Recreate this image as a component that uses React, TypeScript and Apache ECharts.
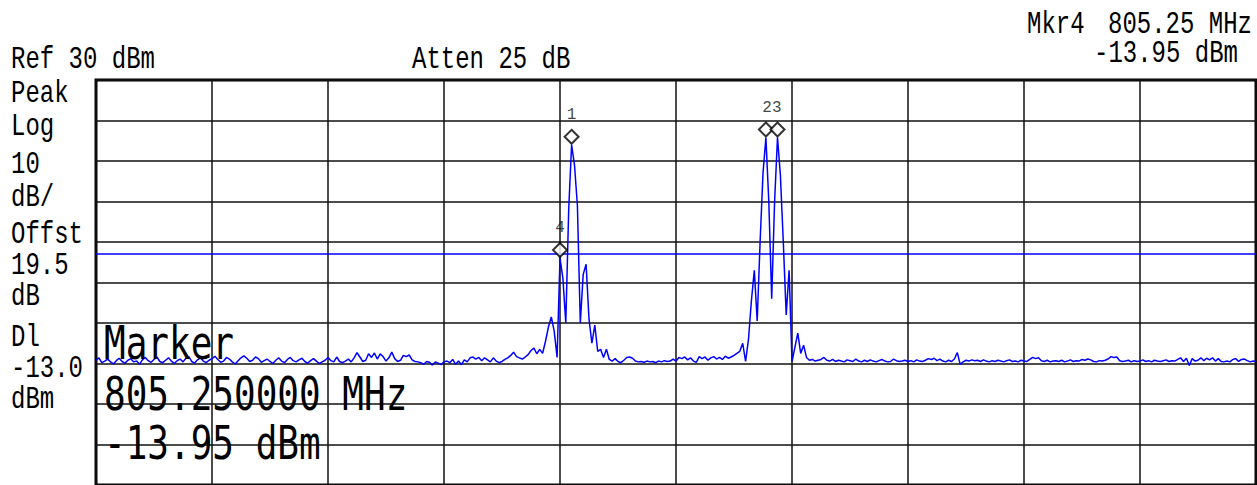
import React, { useEffect, useRef } from "react";
import * as echarts from "echarts";

// Trace: 401 points, level in dBm
const levels: number[] = [
  -39.2, -38.6, -39.8, -39.4, -38.9, -39.6, -40.1, -39.3, -38.7, -39.5,
  -39.9, -39.2, -38.8, -39.6, -39.4, -40.2, -39.1, -38.5, -39.3, -39.7,
  -39.0, -38.4, -39.5, -39.8, -39.2, -38.6, -39.4, -40.0, -39.3, -38.9,
  -39.6, -38.7, -38.3, -39.5, -39.9, -39.1, -38.6, -39.4, -39.8, -39.2,
  -38.8, -38.2, -39.0, -39.7, -39.4, -38.5, -38.9, -39.6, -40.1, -39.3,
  -38.6, -38.1, -38.7, -39.5, -39.2, -38.4, -38.8, -39.7, -39.3, -38.9,
  -39.5, -40.0, -39.2, -38.6, -39.4, -39.8, -39.0, -38.5, -39.3, -39.6,
  -39.1, -38.7, -39.5, -39.9, -39.3, -38.8, -39.4, -40.0, -39.6, -39.2,
  -38.5, -39.3, -39.6, -38.4, -39.5, -39.8, -39.4, -38.9, -39.6, -38.6,
  -37.3, -38.4, -39.5, -39.2, -37.6, -38.5, -37.4, -38.9, -37.6, -38.3,
  -39.4, -38.6, -37.2, -38.8, -39.5, -39.2, -38.0, -38.3, -37.9, -39.1,
  -39.5, -39.6, -39.8, -40.2, -39.5, -39.7, -40.4, -39.6, -39.9, -40.3,
  -39.6, -39.4, -39.8, -39.0, -40.2, -39.4, -40.3, -39.1, -39.6, -38.6,
  -38.4, -38.9, -38.5, -39.3, -38.6, -39.1, -39.6, -38.6, -39.4, -39.8,
  -39.5, -39.0, -38.6, -38.0, -37.2, -38.3, -38.6, -38.9, -38.4, -37.8,
  -36.8, -36.2, -37.6, -36.5, -37.5, -34.5, -31.0, -28.5, -32.0, -38.5,
  -13.95, -19.0, -30.0, -2.0, 14.0, 9.0, -1.0, -30.0, -18.0, -15.5,
  -29.0, -35.0, -30.5, -37.0, -36.5, -38.5, -36.5, -39.0, -39.4, -38.8,
  -39.5, -39.8, -39.2, -38.5, -38.4, -38.7, -39.4, -39.6, -39.5, -39.7,
  -39.4, -39.6, -39.5, -39.8, -39.4, -39.6, -39.3, -39.5, -39.4, -38.9,
  -39.4, -38.5, -38.8, -38.4, -39.1, -38.6, -39.4, -39.7, -38.3, -38.8,
  -38.4, -39.2, -38.6, -38.3, -38.9, -38.5, -39.0, -38.2, -38.7, -38.4,
  -38.0, -37.5, -37.0, -35.0, -39.5, -34.0, -24.5, -17.0, -29.5, -10.0,
  7.0, 15.8, 0.0, -24.0, 0.0, 15.8, 6.5, -10.0, -28.0, -17.0,
  -39.5, -36.0, -32.5, -37.5, -35.5, -38.5, -39.2, -39.0, -39.4, -39.2,
  -39.0, -38.5, -39.2, -39.4, -39.0, -39.5, -39.2, -39.4, -39.6, -39.1,
  -39.3, -39.5, -38.9, -39.4, -39.6, -39.2, -39.5, -39.1, -39.4, -39.6,
  -39.3, -39.0, -39.4, -39.6, -39.5, -38.9, -39.3, -39.5, -39.4, -39.2,
  -39.5, -39.3, -39.6, -39.1, -39.4, -39.5, -39.2, -38.8, -39.0, -38.7,
  -39.3, -38.9, -39.4, -39.6, -39.2, -39.5, -38.9, -37.3, -40.2, -39.6,
  -39.2, -39.4, -39.1, -39.3, -39.2, -39.5, -39.1, -39.4, -39.6, -39.3,
  -39.5, -39.2, -39.4, -39.6, -39.3, -39.1, -39.5, -39.4, -39.6, -39.2,
  -39.4, -39.5, -39.0, -38.5, -38.8, -38.6, -39.3, -39.5, -39.2, -39.6,
  -39.4, -39.3, -39.5, -39.2, -39.6, -39.4, -39.1, -39.5, -39.3, -39.4,
  -39.0, -39.2, -38.9, -39.1, -39.5, -39.6, -39.3, -39.4, -39.2, -38.9,
  -38.3, -38.5, -38.4, -39.3, -39.5, -39.4, -39.2, -39.6, -39.3, -39.5,
  -39.4, -39.1, -39.5, -39.3, -39.6, -39.2, -39.4, -39.5, -39.3, -39.1,
  -39.5, -39.3, -39.4, -39.0, -38.6, -39.5, -38.7, -40.5, -38.8, -39.4,
  -39.2, -38.6, -39.3, -38.7, -39.1, -38.6, -39.4, -38.8, -39.5, -39.6,
  -39.4, -39.6, -39.0, -38.8, -39.5, -39.0, -38.9, -39.3, -39.6, -39.4,
  -39.5,
];

const refLevel = 30;
const bottomLevel = -70;
const dbPerDiv = 10;
const pointsPerDiv = 40;
const lastPoint = 400;

const markerIndices = [164, 231, 235, 160];
const markerNames = ["1", "23", "", "4"];
const displayLine = -13.0;

const headerRef = "Ref 30 dBm";
const headerAtten = "Atten 25 dB";
const mkrName = "Mkr4";
const mkrFreq = "805.25 MHz";
const mkrLevel = "-13.95 dBm";
const sideLabels = ["Peak", "Log", "10", "dB/", "Offst", "19.5", "dB", "Dl", "-13.0", "dBm"];
const sideLabelY = [94, 127, 165, 198, 235, 266, 297, 338, 369, 400];
const markerBox = ["Marker", "805.250000 MHz", "-13.95 dBm"];
const markerBoxY = [343.5, 394.5, 443.5];

const FONT_SMALL = '"Liberation Mono", "DejaVu Sans Mono", monospace';
const FONT_BIG = '"DejaVu Sans Mono", "Liberation Mono", monospace';

function txt(text: string, x: number, y: number, size: number, sy: number, family: string) {
  return {
    type: "text",
    x,
    y,
    scaleY: sy,
    z: 100,
    silent: true,
    style: {
      text,
      fill: "#000",
      font: `${size}px ${family}`,
      align: "left",
      textAlign: "left",
      verticalAlign: "middle",
      textVerticalAlign: "middle",
    },
  };
}

export default function App() {
  const ref = useRef<HTMLDivElement>(null);
  useEffect(() => {
    if (!ref.current) return;
    const chart = echarts.init(ref.current, undefined, { renderer: "svg" });
    const traceData = levels.map((v, i) => [i, v]);
    const markerData = markerIndices.map((idx, k) => ({
      value: [idx, levels[idx]],
      label: {
        show: markerNames[k] !== "",
        formatter: markerNames[k],
        offset: k === 1 ? [6, 0] : [0, 0],
      },
    }));
    const graphics: any[] = [
      txt(headerRef, 11, 59.5, 24, 1.27, FONT_SMALL),
      txt(headerAtten, 412, 59.5, 24, 1.27, FONT_SMALL),
      txt(mkrName, 1027, 25, 24, 1.27, FONT_SMALL),
      txt(mkrFreq, 1108, 25, 24, 1.27, FONT_SMALL),
      txt(mkrLevel, 1094, 53.5, 24, 1.27, FONT_SMALL),
    ];
    sideLabels.forEach((s, i) => graphics.push(txt(s, 11, sideLabelY[i], 24, 1.27, FONT_SMALL)));
    markerBox.forEach((s, i) => graphics.push(txt(s, 104, markerBoxY[i], 36, 1.26, FONT_BIG)));

    chart.setOption({
      animation: false,
      backgroundColor: "#fff",
      grid: {
        left: 96,
        right: 1,
        top: 80,
        bottom: 0,
        show: true,
        borderColor: "#000",
        borderWidth: 3,
      },
      xAxis: {
        type: "value",
        min: 0,
        max: lastPoint,
        interval: pointsPerDiv,
        axisLine: { show: false },
        axisTick: { show: false },
        axisLabel: { show: false },
        splitLine: { show: true, lineStyle: { color: "#111", width: 1.5 } },
      },
      yAxis: {
        type: "value",
        min: bottomLevel,
        max: refLevel,
        interval: dbPerDiv,
        axisLine: { show: false },
        axisTick: { show: false },
        axisLabel: { show: false },
        splitLine: { show: true, lineStyle: { color: "#111", width: 1.5 } },
      },
      series: [
        {
          type: "line",
          data: traceData,
          showSymbol: false,
          symbol: "none",
          lineStyle: { color: "#0000ff", width: 1.5 },
          z: 3,
          silent: true,
          markLine: {
            silent: true,
            symbol: "none",
            label: { show: false },
            lineStyle: { color: "#0000ff", width: 1.5, type: "solid" },
            data: [{ yAxis: displayLine }],
          },
        },
        {
          type: "scatter",
          data: markerData,
          symbol: "diamond",
          symbolSize: 14,
          symbolOffset: [0, -8],
          itemStyle: { color: "#fff", borderColor: "#000", borderWidth: 2 },
          label: {
            show: true,
            position: "top",
            distance: 6,
            color: "#111",
            fontSize: 16,
            fontFamily: FONT_SMALL,
          },
          z: 5,
          silent: true,
        },
      ],
      graphic: graphics,
    });
    return () => chart.dispose();
  }, []);
  return (
    <div
      ref={ref}
      style={{ position: "fixed", left: 0, top: 0, width: 1257, height: 485 }}
    />
  );
}
